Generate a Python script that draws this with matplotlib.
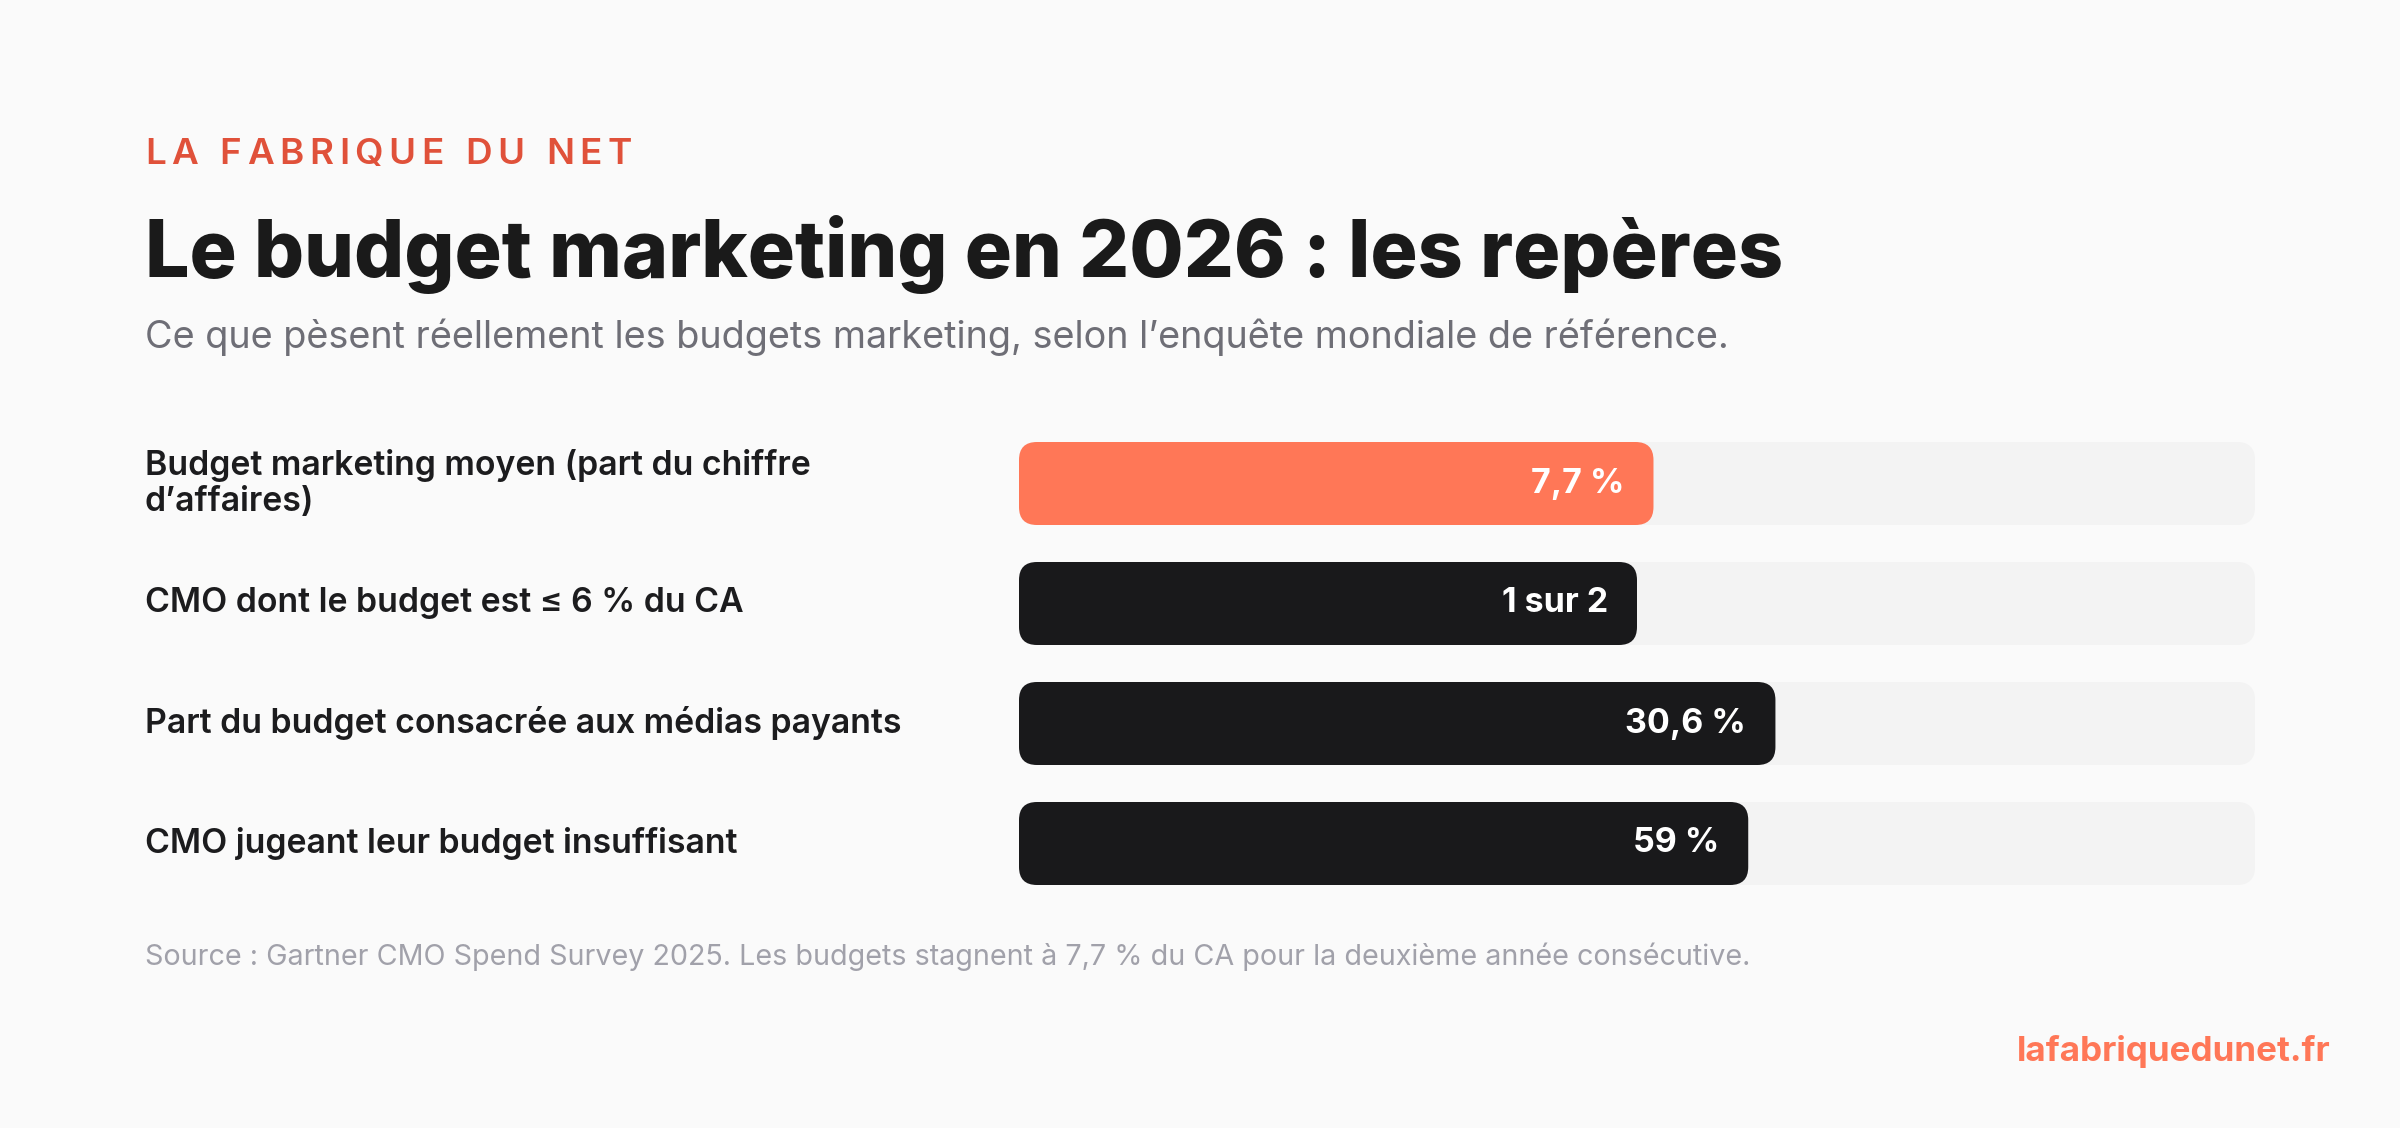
import matplotlib
matplotlib.use("Agg")
import matplotlib.pyplot as plt
from matplotlib.patches import FancyBboxPatch

# chart data
labels = [
    "Budget marketing moyen (part du chiffre\nd\u2019affaires)",
    "CMO dont le budget est \u2264 6 % du CA",
    "Part du budget consacr\u00e9e aux m\u00e9dias payants",
    "CMO jugeant leur budget insuffisant",
]
values = [7.7, 1, 30.6, 59]
scale_max = [15, 2, 50, 100]   # each bar is filled against its own maximum
value_text = ["7,7 %", "1 sur 2", "30,6 %", "59 %"]
highlight = [True, False, False, False]

kicker = "LA FABRIQUE DU NET"
title = "Le budget marketing en 2026 : les rep\u00e8res"
subtitle = "Ce que p\u00e8sent r\u00e9ellement les budgets marketing, selon l\u2019enqu\u00eate mondiale de r\u00e9f\u00e9rence."
source = ("Source : Gartner CMO Spend Survey 2025. Les budgets stagnent \u00e0 7,7 % "
          "du CA pour la deuxi\u00e8me ann\u00e9e cons\u00e9cutive.")
site = "lafabriquedunet.fr"

W, H = 2400, 1128
BG = "#FAFAFA"
TRACK = "#F3F3F3"
ORANGE = "#FF7757"
DARK = "#19191B"
FONT = ["Inter", "DejaVu Sans"]

fig = plt.figure(figsize=(W / 100, H / 100), dpi=100)
fig.patch.set_facecolor(BG)
renderer = fig.canvas.get_renderer()


def px(x, y):
    return x / W, 1 - y / H


def fit(t, width_px):
    w = t.get_window_extent(renderer).width
    t.set_fontsize(t.get_fontsize() * width_px / w)


def tracked(x, y, s, width_px, size, **kw):
    em = size * 100 / 72
    widths = []
    for c in s:
        if c == " ":
            widths.append(0.28 * em)
        else:
            t = fig.text(0, 0, c, fontsize=size, **kw)
            widths.append(t.get_window_extent(renderer).width)
            t.remove()
    track = (width_px - sum(widths)) / (len(s) - 1)
    cx = x
    for c, w in zip(s, widths):
        if c != " ":
            fig.text(*px(cx, y), c, fontsize=size, va="baseline", **kw)
        cx += w + track


# header
tracked(145, 164, kicker, 487, 26.5, color="#E0513A", family=FONT, fontweight="semibold")

t = fig.text(*px(145, 277), title, fontsize=60, fontweight="heavy", color="#1A1A1A",
             family=FONT, va="baseline")
fit(t, 1638)

t = fig.text(*px(145, 348), subtitle, fontsize=25, color="#6E6E76", family=FONT, va="baseline")
fit(t, 1586)

# bars
x0, x1 = 1019, 2255
y_top, y_bot = 442, 885
row = 120
ax = fig.add_axes([x0 / W, 1 - y_bot / H, (x1 - x0) / W, (y_bot - y_top) / H])
half = (y_bot - y_top) / row / 2
ax.set_xlim(0, 1)
ax.set_ylim((len(values) - 1) / 2 + half, (len(values) - 1) / 2 - half)
ax.axis("off")

bar_h = 83 / row
radius_px = 18
aspect = (x1 - x0) / row
rs = radius_px / (x1 - x0)

label_texts = []
for i, (lab, v, m, vt, hl) in enumerate(zip(labels, values, scale_max, value_text, highlight)):
    frac = v / m
    ax.add_patch(FancyBboxPatch((0, i - bar_h / 2), 1, bar_h,
                                boxstyle=f"round,pad=0,rounding_size={rs}",
                                mutation_aspect=aspect, fc=TRACK, ec="none"))
    ax.add_patch(FancyBboxPatch((0, i - bar_h / 2), frac, bar_h,
                                boxstyle=f"round,pad=0,rounding_size={rs}",
                                mutation_aspect=aspect, fc=ORANGE if hl else DARK, ec="none"))
    ax.annotate(vt, (frac, i), xytext=(-21, 0), textcoords="offset points",
                ha="right", va="center", color="white", fontsize=24.5,
                fontweight="bold", family=FONT)
    yc = y_top + bar_h / 2 * row + i * row
    lt = fig.text(*px(145, yc), lab, fontsize=22.5, fontweight="semibold",
                  color="#1C1C1E", family=FONT, va="center", linespacing=1.2)
    label_texts.append(lt)

# match label size to the widest single line
ref = label_texts[2]
fit(ref, 757)
for lt in label_texts:
    lt.set_fontsize(ref.get_fontsize())

# footer
t = fig.text(*px(145, 965), source, fontsize=19.5, color="#A1A1AA", family=FONT, va="baseline")
fit(t, 1606)

t = fig.text(*px(2331, 1061), site, fontsize=26, fontweight="bold", color=ORANGE,
             family=FONT, ha="right", va="baseline")
fit(t, 314)

fig.savefig("out.png", dpi=100, facecolor=BG)
